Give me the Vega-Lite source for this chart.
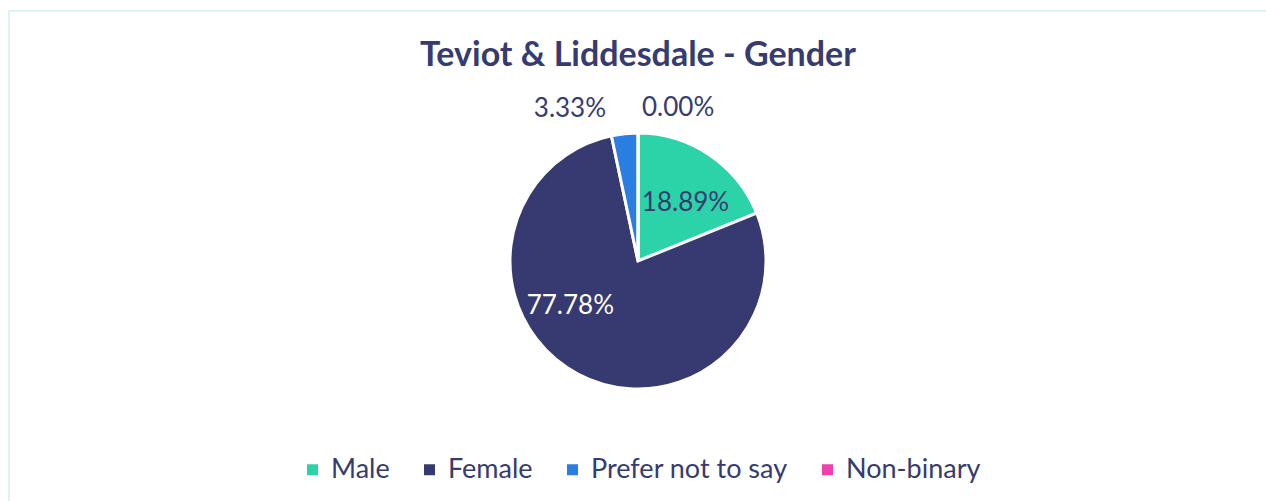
{
  "$schema": "https://vega.github.io/schema/vega-lite/v6.json",
  "width": 1258,
  "height": 500,
  "autosize": {"type": "none"},
  "padding": {"left": 9, "top": 11, "right": 0, "bottom": 0},
  "background": "white",
  "view": {"stroke": "#CFF3E8", "strokeWidth": 1.5, "fill": "white"},
  "config": {
    "font": "Lato"
  },
  "title": {
    "text": "Teviot & Liddesdale - Gender",
    "font": "Lato",
    "fontSize": 34,
    "fontWeight": "bold",
    "color": "#363B70",
    "anchor": "middle",
    "frame": "group",
    "orient": "top",
    "baseline": "alphabetic",
    "offset": -89
  },
  "data": {
    "values": [
      {"gender": "Male", "pct": 18.89, "label": "18.89%", "idx": 1},
      {"gender": "Female", "pct": 77.78, "label": "77.78%", "idx": 2},
      {"gender": "Prefer not to say", "pct": 3.33, "label": "3.33%", "idx": 3},
      {"gender": "Non-binary", "pct": 0, "label": "0.00%", "idx": 4}
    ]
  },
  "layer": [
    {
      "mark": {"type": "arc", "outerRadius": 128, "stroke": "white", "strokeWidth": 3},
      "encoding": {
        "theta": {"field": "pct", "type": "quantitative", "stack": true},
        "order": {"field": "idx", "type": "quantitative"},
        "color": {
          "field": "gender",
          "type": "nominal",
          "scale": {
            "domain": ["Male", "Female", "Prefer not to say", "Non-binary"],
            "range": ["#2DD3A8", "#363A70", "#2A7DE1", "#F03FAF"]
          },
          "legend": {
            "title": null,
            "orient": "none",
            "direction": "horizontal",
            "legendX": 290,
            "legendY": 445,
            "padding": 0,
            "symbolType": "square",
            "symbolSize": 121,
            "symbolStrokeWidth": 0,
            "labelFont": "Lato",
            "labelFontSize": 27,
            "labelColor": "#363B70",
            "labelOffset": 5,
            "labelLimit": 400,
            "columnPadding": 26
          }
        }
      }
    },
    {
      "mark": {"type": "text", "radius": 76, "font": "Lato", "fontSize": 26, "baseline": "middle", "dx": 5, "dy": 5},
      "encoding": {
        "theta": {"field": "pct", "type": "quantitative", "stack": true},
        "order": {"field": "idx", "type": "quantitative"},
        "detail": {"field": "gender", "type": "nominal"},
        "text": {"field": "label"},
        "color": {"value": "#363B70"},
        "opacity": {"condition": {"test": "datum.gender === 'Male'", "value": 1}, "value": 0}
      }
    },
    {
      "mark": {"type": "text", "radius": 76, "font": "Lato", "fontSize": 26, "baseline": "middle", "dx": -32, "dy": -22},
      "encoding": {
        "theta": {"field": "pct", "type": "quantitative", "stack": true},
        "order": {"field": "idx", "type": "quantitative"},
        "detail": {"field": "gender", "type": "nominal"},
        "text": {"field": "label"},
        "color": {"value": "white"},
        "opacity": {"condition": {"test": "datum.gender === 'Female'", "value": 1}, "value": 0}
      }
    },
    {
      "mark": {"type": "text", "radius": 153, "font": "Lato", "fontSize": 26, "baseline": "middle", "align": "right", "dx": -16},
      "encoding": {
        "theta": {"field": "pct", "type": "quantitative", "stack": true},
        "order": {"field": "idx", "type": "quantitative"},
        "detail": {"field": "gender", "type": "nominal"},
        "text": {"field": "label"},
        "color": {"value": "#363B70"},
        "opacity": {"condition": {"test": "datum.gender === 'Prefer not to say'", "value": 1}, "value": 0}
      }
    },
    {
      "mark": {"type": "text", "radius": 153, "font": "Lato", "fontSize": 26, "baseline": "middle", "align": "left", "dx": 4},
      "encoding": {
        "theta": {"field": "pct", "type": "quantitative", "stack": true},
        "order": {"field": "idx", "type": "quantitative"},
        "detail": {"field": "gender", "type": "nominal"},
        "text": {"field": "label"},
        "color": {"value": "#363B70"},
        "opacity": {"condition": {"test": "datum.gender === 'Non-binary'", "value": 1}, "value": 0}
      }
    }
  ]
}
